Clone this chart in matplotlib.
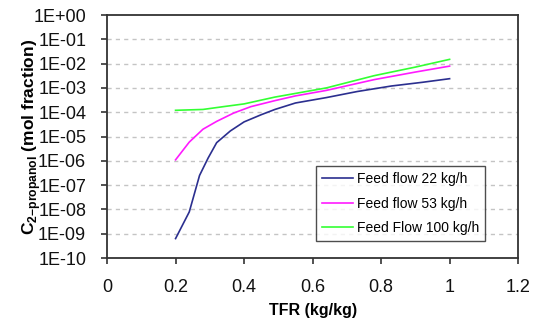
import matplotlib
matplotlib.use("Agg")
import matplotlib.pyplot as plt
import matplotlib.ticker as mticker
import numpy as np

# TFR (kg/kg) and 2-propanol mole fraction
tfr_22 = [0.20, 0.24, 0.27, 0.295, 0.32, 0.36, 0.40, 0.45, 0.49, 0.55, 0.64, 0.73, 0.83, 0.92, 1.00]
c_22 = [6.3e-10, 7.9e-9, 2.5e-7, 1.3e-6, 5.6e-6, 1.7e-5, 4.0e-5, 7.9e-5, 1.3e-4, 2.4e-4,
        4.0e-4, 7.1e-4, 1.2e-3, 1.7e-3, 2.4e-3]

tfr_53 = [0.20, 0.24, 0.28, 0.32, 0.37, 0.42, 0.49, 0.55, 0.64, 0.78, 0.90, 1.00]
c_53 = [1.1e-6, 5.9e-6, 2.0e-5, 4.2e-5, 9.3e-5, 1.7e-4, 3.0e-4, 4.7e-4, 7.9e-4, 2.2e-3, 4.5e-3, 7.9e-3]

tfr_100 = [0.20, 0.28, 0.34, 0.40, 0.49, 0.64, 0.78, 0.90, 1.00]
c_100 = [1.2e-4, 1.3e-4, 1.7e-4, 2.2e-4, 4.2e-4, 1.0e-3, 3.2e-3, 7.2e-3, 1.5e-2]

labels = ["Feed flow 22 kg/h", "Feed flow 53 kg/h", "Feed Flow 100 kg/h"]
colors = ["#2b2f8f", "#ff1aff", "#33ff33"]

xticks = [0, 0.2, 0.4, 0.6, 0.8, 1.0, 1.2]
xticklabels = ["0", "0.2", "0.4", "0.6", "0.8", "1", "1.2"]
yticks = [10.0 ** -k for k in range(0, 11)]
yticklabels = ["1E+00"] + ["1E-%02d" % k for k in range(1, 11)]

plt.rcParams["font.family"] = ["Liberation Sans", "DejaVu Sans"]
plt.rcParams["mathtext.fontset"] = "custom"
plt.rcParams["mathtext.rm"] = "Liberation Sans"
plt.rcParams["mathtext.bf"] = "Liberation Sans:bold"

fig = plt.figure(figsize=(5.38, 3.27), dpi=100)
ax = fig.add_axes([0.199, 0.211, 0.764, 0.743])

for x, y, lab, col in zip([tfr_22, tfr_53, tfr_100], [c_22, c_53, c_100], labels, colors):
    ax.plot(x, y, color=col, lw=1.2, label=lab)

ax.set_yscale("log")
ax.set_xlim(0, 1.2)
ax.set_ylim(1e-10, 1)
ax.set_xticks(xticks)
ax.set_xticklabels(xticklabels)
ax.yaxis.set_major_locator(mticker.FixedLocator(yticks))
ax.yaxis.set_minor_locator(mticker.NullLocator())
ax.set_yticklabels(yticklabels)

for k in range(1, 10):
    ax.axhline(10.0 ** -k, color="#c4c4c4", lw=1.0, ls=(0, (3, 3)), zorder=0)

for s in ax.spines.values():
    s.set_color("#333333")
    s.set_linewidth(1.3)
ax.tick_params(direction="out", length=4, width=1.2, color="#333333",
               labelsize=13, labelcolor="#111111")
ax.tick_params(axis="x", pad=11)
ax.tick_params(axis="y", pad=11)

ax.set_xlabel("TFR (kg/kg)", fontsize=11.5, fontweight="bold")
ax.xaxis.set_label_coords(0.5, -0.185)
ax.set_ylabel(r"$\mathbf{C}_{\mathbf{2{-}propanol}}$ (mol fraction)",
              fontsize=12.5, fontweight="bold")
ax.yaxis.set_label_coords(-0.157, 0.5)

leg = ax.legend(loc="upper left", bbox_to_anchor=(0.508, 0.379), borderaxespad=0,
                fontsize=10, frameon=True, fancybox=False, handlelength=2.2,
                handletextpad=0.3, labelspacing=0.75, borderpad=0.45)
leg.get_frame().set_edgecolor("#222222")
leg.get_frame().set_linewidth(1.0)

plt.savefig("out.png", dpi=100)
